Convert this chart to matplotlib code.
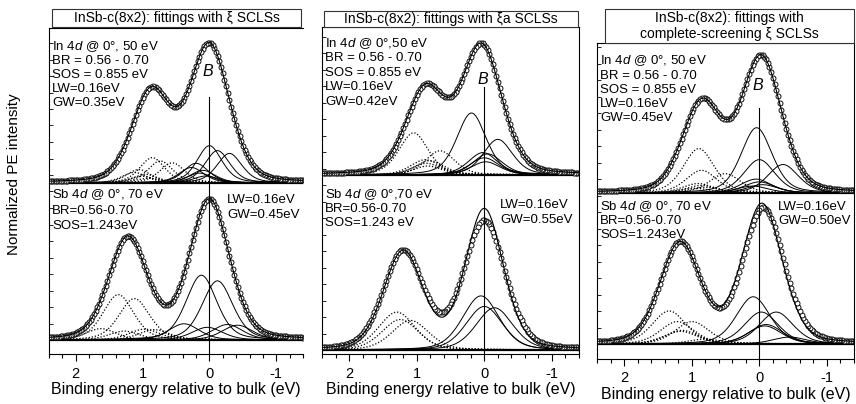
import numpy as np
import matplotlib
matplotlib.use("Agg")
import matplotlib.pyplot as plt
from matplotlib.ticker import MultipleLocator, FixedLocator
from matplotlib.patches import Rectangle

plt.rcParams['font.family'] = ['Liberation Sans', 'DejaVu Sans']
plt.rcParams['mathtext.fontset'] = 'custom'
plt.rcParams['mathtext.rm'] = 'Liberation Sans'
plt.rcParams['mathtext.it'] = 'Liberation Sans:italic'

# energy grid (eV, relative to bulk)
E = np.arange(-1.40, 2.401, 0.025)

LW = 0.16
SOS_IN = 0.855
SOS_SB = 1.243

# --- panel titles
titles = ["InSb-c(8x2): fittings with \u03be SCLSs",
          "InSb-c(8x2): fittings with \u03bea SCLSs",
          "InSb-c(8x2): fittings with\ncomplete-screening \u03be SCLSs"]

# --- Gaussian widths per panel (In 4d, Sb 4d)
gw_in = [0.35, 0.42, 0.45]
gw_sb = [0.45, 0.55, 0.50]
br_in = [0.68, 0.68, 0.68]
br_sb = [0.70, 0.70, 0.70]

# --- measured envelope: peak positions, heights, fwhm
in_env_pos = [[0.0, 0.87], [0.04, 0.87], [-0.03, 0.85]]
in_env_h   = [[0.97, 0.64], [0.97, 0.64], [0.97, 0.64]]
in_env_w   = [[0.70, 0.68], [0.70, 0.68], [0.70, 0.68]]
sb_env_pos = [[0.0, 1.22], [0.0, 1.20], [-0.06, 1.17]]
sb_env_h   = [[0.99, 0.72], [0.97, 0.74], [0.97, 0.72]]
sb_env_w   = [[0.70, 0.68], [0.72, 0.70], [0.72, 0.70]]
# fit curve where it departs from the data (panels 2, 3)
sb_fit_pos = [None, [0.0, 1.20], [-0.04, 1.17]]
sb_fit_h   = [None, [1.06, 0.74], [1.00, 0.72]]
sb_fit_w   = [None, [0.66, 0.68], [0.70, 0.70]]

# --- surface components (d5/2), the d3/2 partners are drawn dotted
in_comp_pos = [[0.0, -0.12, -0.30, 0.20, 0.27, 0.10, 0.15, 0.05],
               [0.19, -0.20, 0.02, -0.05, 0.0, -0.02],
               [0.04, 0.0, -0.35, 0.05, 0.0, -0.05, 0.10]]
in_comp_h   = [[0.265, 0.23, 0.21, 0.14, 0.11, 0.09, 0.07, 0.05],
               [0.47, 0.27, 0.17, 0.16, 0.13, 0.10],
               [0.47, 0.24, 0.205, 0.10, 0.08, 0.06, 0.05]]
sb_comp_pos = [[0.12, -0.12, 0.38, 0.03, -0.27, -0.42],
               [0.05, 0.0, -0.15],
               [0.09, -0.03, -0.25, -0.10, -0.08, -0.45]]
sb_comp_h   = [[0.46, 0.42, 0.115, 0.09, 0.11, 0.105],
               [0.41, 0.33, 0.32],
               [0.34, 0.23, 0.23, 0.14, 0.13, 0.05]]

# --- info text
in_info = [["In 4$d$ @ 0\u00b0, 50 eV", "BR = 0.56 - 0.70", "SOS = 0.855 eV", "LW=0.16eV", "GW=0.35eV"],
           ["In 4$d$ @ 0\u00b0,50 eV", "BR = 0.56 - 0.70", "SOS = 0.855 eV", "LW=0.16eV", "GW=0.42eV"],
           ["In 4$d$ @ 0\u00b0, 50 eV", "BR = 0.56 - 0.70", "SOS = 0.855 eV", "LW=0.16eV", "GW=0.45eV"]]
sb_info = [["Sb 4$d$ @ 0\u00b0, 70 eV", "BR=0.56-0.70", "SOS=1.243eV"],
           ["Sb 4$d$ @ 0\u00b0,70 eV", "BR=0.56-0.70", "SOS=1.243 eV"],
           ["Sb 4$d$ @ 0\u00b0, 70 eV", "BR=0.56-0.70", "SOS=1.243eV"]]
sb_lw_info = [["LW=0.16eV", "GW=0.45eV"],
              ["LW=0.16eV", "GW=0.55eV"],
              ["LW=0.16eV", "GW=0.50eV"]]


def pvoigt(x, pos, h, fwhm, eta):
    u = 4.0 * (x - pos) ** 2 / fwhm ** 2
    return h * ((1 - eta) * np.exp(-np.log(2) * u) + eta / (1 + u))


def voigt_par(gw, lw):
    f = 0.5346 * lw + np.sqrt(0.2166 * lw ** 2 + gw ** 2)
    r = lw / f
    eta = 1.36603 * r - 0.47719 * r ** 2 + 0.11116 * r ** 3
    return f, eta


def envelope(pos, h, w, eta=0.25):
    return sum(pvoigt(E, p, a, f, eta) for p, a, f in zip(pos, h, w))


W, H = 856, 404
fig = plt.figure(figsize=(W / 100, H / 100), dpi=100)


def fx(px):
    return px / W


def fy(py):
    return 1 - py / H


# axes boxes in pixels: left, right, top, bottom
boxes = [(49, 303, 28, 354), (322, 579, 27, 354), (597, 854, 43, 359)]
# vertical scale: pixels per unit, baseline of lower spectrum (px)
unit_px = [141, 132, 139]
base_px = [340, 350, 344]
top_base_px = [183, 175, 193]
title_box = [(52, 301, 9, 27), (324, 578, 11, 27), (605, 854, 9, 43)]
bline_top = [97, 87, 108]
b_lbl_y = [71, 79, 86]
info_x = [52, 325, 600]
in_info_y = [[46.5, 61, 75, 89.3, 103.5], [43.3, 58.3, 72.7, 87.3, 101.7], [61, 76, 90, 104, 118.3]]
sb_info_y = [[194.5, 211, 226], [195, 209.3, 223.3], [206.7, 220.7, 235]]
lw_x = [227, 500, 778]
lw_y = [[200, 215], [205, 220], [206.7, 220.7]]

fs = 9.5

for i in range(3):
    l, r, t, b = boxes[i]
    ax = fig.add_axes([fx(l), fy(b), fx(r - l), (b - t) / H])
    u = unit_px[i]
    ylo = -(b - base_px[i]) / u
    yhi = (base_px[i] - t) / u
    off = (base_px[i] - top_base_px[i]) / u
    ax.set_xlim(2.4, -1.4)
    ax.set_ylim(ylo, yhi)

    # In 4d (upper) and Sb 4d (lower)
    for k, (y0, gw, br, sos, cpos, ch, epos, eh, ew) in enumerate([
            (off, gw_in[i], br_in[i], SOS_IN, in_comp_pos[i], in_comp_h[i],
             in_env_pos[i], in_env_h[i], in_env_w[i]),
            (0.0, gw_sb[i], br_sb[i], SOS_SB, sb_comp_pos[i], sb_comp_h[i],
             sb_env_pos[i], sb_env_h[i], sb_env_w[i])]):
        f, eta = voigt_par(gw, LW)
        for p, a in zip(cpos, ch):
            ax.plot(E, y0 + pvoigt(E, p, a, f, eta), color='black', lw=0.7)
            ax.plot(E, y0 + pvoigt(E, p + sos, a * br, f, eta), color='black',
                    lw=0.9, ls=(0, (1, 1.5)))
        ax.plot(E, np.full_like(E, y0), color='black', lw=1.6)
        data = y0 + envelope(epos, eh, ew)
        ax.plot(E, data, ls='none', marker='o', ms=3.6, mfc='white',
                mec='black', mew=0.65)
        if k == 1 and sb_fit_pos[i] is not None:
            fit = y0 + envelope(sb_fit_pos[i], sb_fit_h[i], sb_fit_w[i])
        else:
            fit = data
        ax.plot(E, fit, color='black', lw=0.8)

    ax.axvline(0, ymin=0, ymax=(b - bline_top[i]) / (b - t), color='black', lw=0.8)
    ax.text(0.02, ylo + (b - b_lbl_y[i]) / u, "B", style='italic', fontsize=11.5,
            ha='center', va='center')

    ax.xaxis.set_major_locator(FixedLocator([2, 1, 0, -1]))
    ax.xaxis.set_minor_locator(MultipleLocator(0.2))
    ax.set_xticklabels(["2", "1", "0", "-1"])
    ax.tick_params(axis='x', which='major', direction='out', length=5, width=0.8,
                   labelsize=10.5, pad=4)
    ax.tick_params(axis='x', which='minor', direction='out', length=3, width=0.8)
    ax.yaxis.set_major_locator(MultipleLocator(16.5 / u))
    ax.tick_params(axis='y', which='major', direction='in', length=3, width=0.6,
                   labelleft=False)
    ax.set_xlabel("Binding energy relative to bulk (eV)", fontsize=11.5, labelpad=1)
    for s in ax.spines.values():
        s.set_linewidth(0.8)
    if i == 0:
        ax.spines['right'].set_visible(False)

    # title box
    tl, tr, tt, tb = title_box[i]
    fig.add_artist(Rectangle((fx(tl), fy(tb)), fx(tr - tl), (tb - tt) / H,
                             transform=fig.transFigure, facecolor='white',
                             edgecolor='#333333', lw=0.8))
    fig.text(fx((tl + tr) / 2), fy((tt + tb) / 2), titles[i], ha='center',
             va='center', fontsize=10, linespacing=1.1)

    for s, yy in zip(in_info[i], in_info_y[i]):
        fig.text(fx(info_x[i]), fy(yy), s, ha='left', va='center', fontsize=fs)
    for s, yy in zip(sb_info[i], sb_info_y[i]):
        fig.text(fx(info_x[i]), fy(yy), s, ha='left', va='center', fontsize=fs)
    for s, yy in zip(sb_lw_info[i], lw_y[i]):
        fig.text(fx(lw_x[i]), fy(yy), s, ha='left', va='center', fontsize=fs)

fig.text(fx(14), fy(174), "Normalized PE intensity", rotation=90, ha='center',
         va='center', fontsize=11)

fig.savefig("out.png", dpi=100)
